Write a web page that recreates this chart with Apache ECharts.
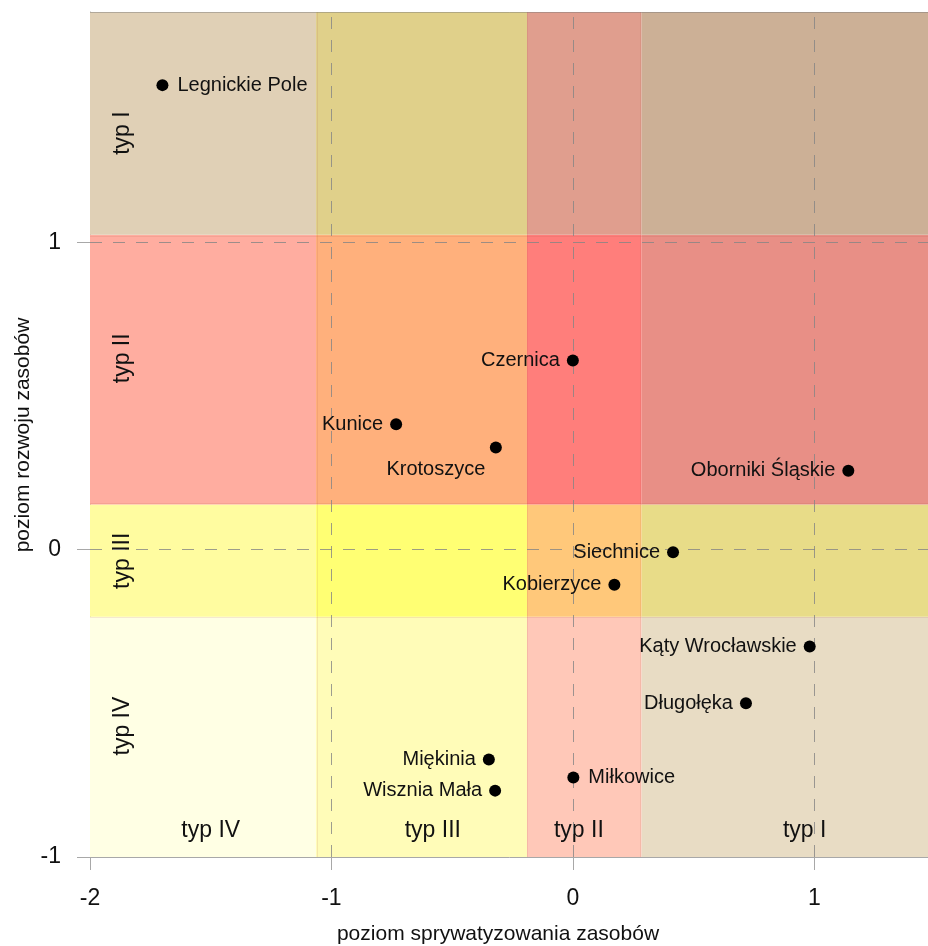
<!DOCTYPE html>
<html><head><meta charset="utf-8">
<script src="https://cdn.jsdelivr.net/npm/echarts@6/dist/echarts.min.js"></script>
<style>html,body{margin:0;padding:0;background:#fff}#c{width:928px;height:946px}</style>
</head><body><div id="c"></div>
<script>
// ---- data ----
const names = ['Legnickie Pole','Czernica','Kunice','Krotoszyce','Oborniki Śląskie','Siechnice','Kobierzyce','Kąty Wrocławskie','Długołęka','Miękinia','Wisznia Mała','Miłkowice'];
const xVals = [-1.70, 0.00, -0.732, -0.319, 1.141, 0.415, 0.172, 0.981, 0.717, -0.348, -0.322, 0.002];
const yVals = [1.512, 0.616, 0.408, 0.333, 0.257, -0.008, -0.114, -0.315, -0.500, -0.683, -0.784, -0.741];
const xBreaks = [-2, -1.064, -0.19, 0.285, 1.5];
const yBreaks = [-1, -0.218, 0.147, 1.025, 1.75];
const typNames = ['typ IV','typ III','typ II','typ I'];
const typBottomX = [-1.5, -0.58, 0.025, 0.96];
const typBottomY = -0.914;
const typLeftX = -1.865;
const typLeftY = [-0.574, -0.036, 0.623, 1.356];
const xTicks = [-2, -1, 0, 1];
const yTicks = [-1, 0, 1];
const xMinor = [-1.5, -0.5, 0.5];
const yMinor = [-0.5, 0.5, 1.5];
const xGridLines = [-1, 0, 1];
const yGridLines = [0, 1];
const xAxisTitle = 'poziom sprywatyzowania zasobów';
const yAxisTitle = 'poziom rozwoju zasobów';

// ---- styles ----
const cellColors = [ // rows bottom->top (typ IV..I), cols left->right (typ IV..I)
  ['#FFFFE4', '#FFFCB8', '#FFC8B8', '#E8DCC4'],
  ['#FFFCA0', '#FFFF73', '#FFC87A', '#E8DC88'],
  ['#FFADA0', '#FFB07C', '#FF7E7B', '#E88F86'],
  ['#E0D0B6', '#E0D08A', '#E09E8E', '#CCB096']
];
const labelSide = ['right','left','left','below','left','left','left','left','left','left','left','right'];
const FONT = "'Liberation Sans', Arial, sans-serif";
const TXT = '#111';
const AXC = '#a8a8a8';

const cells = [];
for (let r = 0; r < 4; r++) for (let c = 0; c < 4; c++) {
  cells.push([
    { xAxis: xBreaks[c], yAxis: yBreaks[r], itemStyle: { color: cellColors[r][c], borderWidth: 0, opacity: 1 } },
    { xAxis: xBreaks[c + 1], yAxis: yBreaks[r + 1] }
  ]);
}

const pts = names.map((n, i) => {
  const side = labelSide[i];
  let label;
  if (side === 'below') label = { position: [-54, 28], align: 'center', verticalAlign: 'middle' };
  else if (side === 'right') label = { position: 'right', distance: 9 };
  else label = { position: 'left', distance: 7 };
  return { name: n, value: [xVals[i], yVals[i]], label };
});

const typData = [];
typNames.forEach((t, i) => typData.push({ name: t, value: [typBottomX[i], typBottomY] }));
typNames.forEach((t, i) => typData.push({ name: t, value: [typLeftX, typLeftY[i]], label: { rotate: 90 } }));

const gl = [];
xGridLines.forEach(v => gl.push({ xAxis: v }));
yGridLines.forEach(v => gl.push({ yAxis: v }));

// faint band borders
const bl = [];
xBreaks.slice(1, 4).forEach(v => bl.push({ xAxis: v }));
yBreaks.slice(1, 4).forEach(v => bl.push({ yAxis: v }));
const topEdge = [{ yAxis: yBreaks[4], lineStyle: { color: 'rgba(120,120,120,0.45)' } }];

const chart = echarts.init(document.getElementById('c'), null, { renderer: 'canvas' });
chart.setOption({
  animation: false,
  backgroundColor: '#fff',
  textStyle: { fontFamily: FONT },
  grid: { left: 90, top: 12, right: -7, bottom: 89, outerBoundsMode: 'none', containLabel: false },
  xAxis: [
    { type: 'value', min: -2, max: 1.5, position: 'bottom',
      axisLine: { show: true, onZero: false, lineStyle: { color: AXC, width: 1 } },
      axisTick: { show: true, length: 13, customValues: xTicks, lineStyle: { color: AXC } },
      axisLabel: { customValues: xTicks, fontSize: 23, color: TXT, margin: 30, fontFamily: FONT },
      splitLine: { show: false } },
    { type: 'value', min: -2, max: 1.5, position: 'bottom',
      axisLine: { show: false },
      axisTick: { show: true, length: 6, customValues: xMinor, lineStyle: { color: AXC } },
      axisLabel: { show: false }, splitLine: { show: false } }
  ],
  yAxis: [
    { type: 'value', min: -1, max: 1.75, position: 'left',
      axisLine: { show: true, onZero: false, lineStyle: { color: AXC, width: 1 } },
      axisTick: { show: true, length: 13, customValues: yTicks, lineStyle: { color: AXC } },
      axisLabel: { customValues: yTicks, fontSize: 23, color: TXT, margin: 29, fontFamily: FONT },
      splitLine: { show: false } },
    { type: 'value', min: -1, max: 1.75, position: 'left',
      axisLine: { show: false },
      axisTick: { show: true, length: 6, customValues: yMinor, lineStyle: { color: AXC } },
      axisLabel: { show: false }, splitLine: { show: false } }
  ],
  graphic: [
    { type: 'text', x: 498, y: 934, z: 10,
      style: { text: xAxisTitle, fill: TXT, font: '21px ' + FONT, textAlign: 'center', textVerticalAlign: 'middle' } },
    { type: 'text', x: 23, y: 435, rotation: Math.PI / 2, z: 10,
      style: { text: yAxisTitle, fill: TXT, font: '21px ' + FONT, textAlign: 'center', textVerticalAlign: 'middle' } }
  ],
  series: [
    { type: 'scatter', name: 'cells', data: [], z: 1, silent: true,
      markArea: { silent: true, data: cells, label: { show: false } } },
    { type: 'scatter', name: 'borders', data: [], z: 2, silent: true,
      markLine: { silent: true, symbol: ['none', 'none'], label: { show: false },
        lineStyle: { color: 'rgba(170,70,60,0.12)', width: 1, type: 'solid' }, data: bl.concat(topEdge) } },
    { type: 'scatter', name: 'grid', data: [], z: 3, silent: true,
      markLine: { silent: true, symbol: ['none', 'none'], label: { show: false },
        lineStyle: { color: '#858585', opacity: 0.8, width: 1, type: [12, 11] }, data: gl } },
    { type: 'scatter', name: 'typ', data: typData, z: 4, silent: true, symbolSize: 0,
      itemStyle: { opacity: 1 },
      label: { show: true, position: 'inside', formatter: '{b}', fontSize: 23, color: TXT, fontFamily: FONT } },
    { type: 'scatter', name: 'gminy', data: pts, z: 5, symbolSize: 12,
      itemStyle: { color: '#000', opacity: 1 },
      label: { show: true, formatter: '{b}', fontSize: 20, color: TXT, fontFamily: FONT } }
  ]
});
</script>
</body></html>
